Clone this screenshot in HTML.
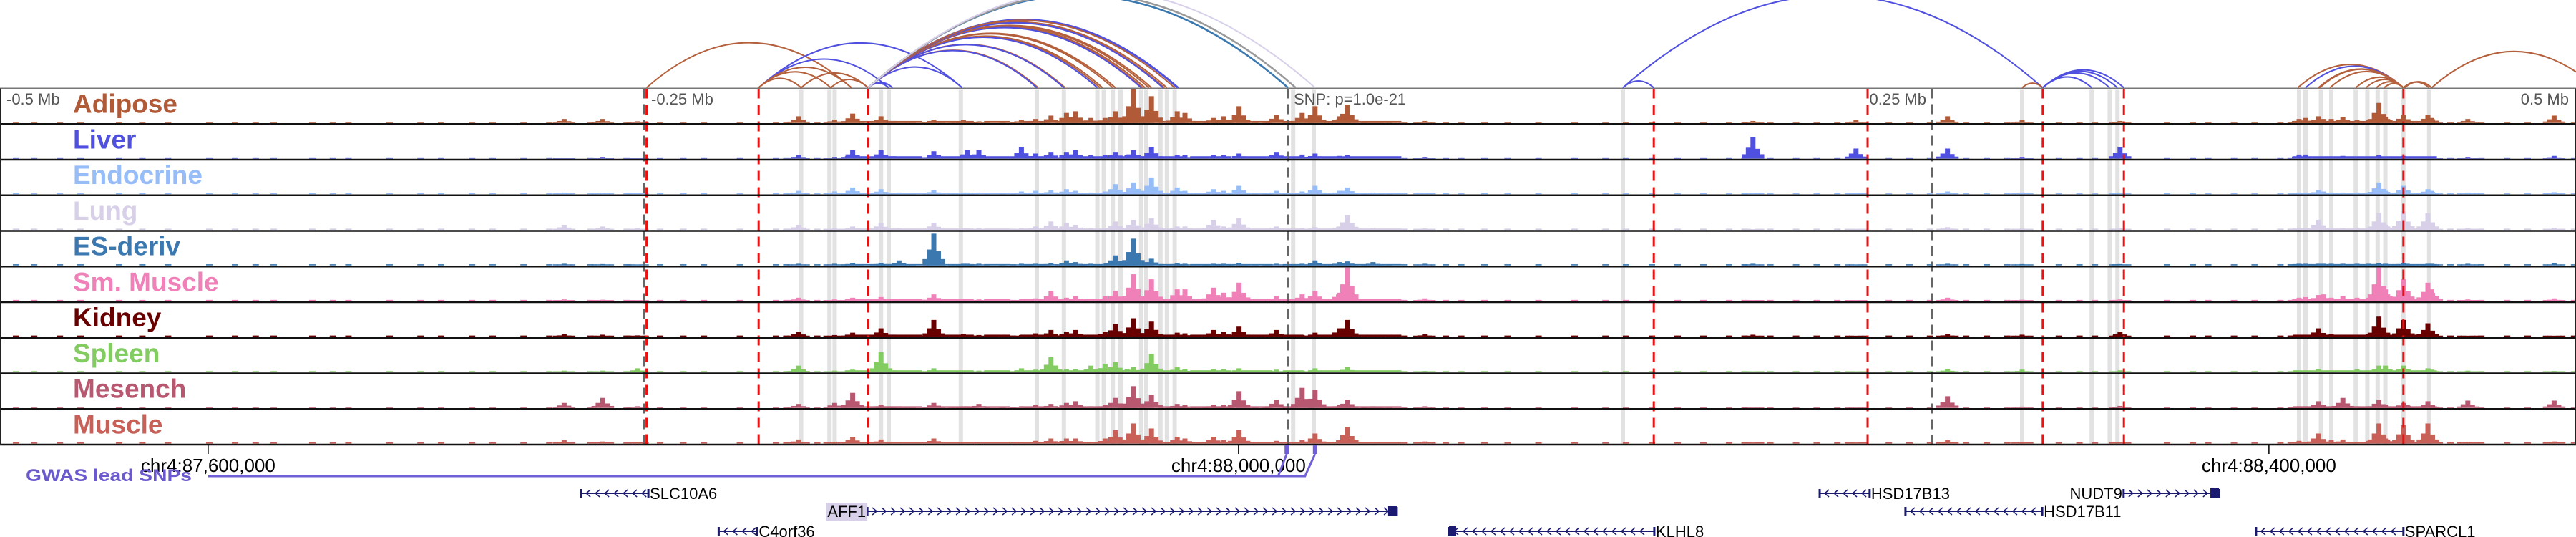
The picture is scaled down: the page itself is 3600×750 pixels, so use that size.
<!DOCTYPE html>
<html><head><meta charset="utf-8"><title>Regional chromatin tracks</title>
<style>
html,body{margin:0;padding:0;background:#fff;width:3600px;height:750px;overflow:hidden}
svg{display:block;font-family:"Liberation Sans",Arial,sans-serif}
</style></head>
<body>
<svg id="chart" width="3600" height="750" viewBox="0 0 3600 750" xmlns="http://www.w3.org/2000/svg">
<g id="shade"></g>
<g id="tracks"></g>
<g id="vlines"></g>
<g id="frame"></g>
<g id="arcs"></g>
<g id="labels"></g>
<g id="axis">
  <text x="9" y="146" font-size="22" fill="#555">-0.5 Mb</text>
  <text x="910" y="146" font-size="22" fill="#555">-0.25 Mb</text>
  <text x="2692" y="146" font-size="22" fill="#555" text-anchor="end">0.25 Mb</text>
  <text x="3590" y="146" font-size="22" fill="#555" text-anchor="end">0.5 Mb</text>
  <text x="1808" y="146" font-size="22" fill="#555">SNP: p=1.0e-21</text>
</g>
<g id="genes"></g>
<g id="gwas">
  <text x="36" y="672" font-size="24" font-weight="bold" fill="#6a5acd" textLength="232" lengthAdjust="spacingAndGlyphs">GWAS lead SNPs</text>
</g>
</svg>
<script>
// ---- data ----
const trackNames = ["Adipose","Liver","Endocrine","Lung","ES-deriv","Sm. Muscle","Kidney","Spleen","Mesench","Muscle"];
const trackColors = ["#b05a38","#5050e0","#96bdf8","#d8d0e8","#3c78b0","#f080b8","#680000","#82cc62","#b85870","#c86058"];
// peak positions: kb offset from lead SNP
const siteKb = [-281,-266,-252.5,-190,-176,-169,-158,-151,-137.5,-126,-124.5,-120,-103.5,-98,-92,-86,-82.5,-76.5,-71,-67,-62.5,-60,-53,-43,-40,-29,-25,-19,-4.5,5.5,10.5,20,23,33,53,180.5,220.5,256,285,323,392.5,395,400,402,405,409.5,415,419.5,423.5,426,433,434.5,442.5,444,458,491.5];
const adipose  = [.12,.12,.05,.2,.1,.28,.2,.05,.1,.08,.05,.05,.1,.12,.22,.3,.35,.15,.15,.35,.1,1.0,.8,.35,.3,.15,.2,.5,.25,.3,.5,.2,.55,.05,.06,.06,.08,.2,.08,.06,.12,.15,.2,.12,.12,.18,.08,.1,.6,.18,.25,.1,.25,.15,.12,.22];
const liver    = [.03,.05,.03,.1,.05,.25,.25,.05,.22,.05,.25,.25,.35,.15,.2,.2,.25,.1,.1,.2,.1,.25,.35,.1,.1,.1,.1,.15,.2,.12,.15,.08,.1,.05,.05,.65,.3,.3,.05,.35,.12,.12,.05,.05,.05,.08,.05,.05,.1,.05,.08,.05,.05,.05,.05,.08];
const endocrine= [.05,.04,.03,.1,.08,.2,.15,.05,.12,.05,.05,.05,.08,.1,.12,.15,.1,.05,.08,.3,.05,.35,.5,.2,.1,.15,.1,.25,.1,.08,.25,.1,.2,.05,.03,.03,.03,.08,.05,.05,.05,.05,.12,.08,.05,.05,.05,.05,.35,.1,.25,.1,.15,.1,.05,.06];
const lung     = [.15,.1,.06,.15,.05,.1,.2,.05,.2,.05,.05,.05,.05,.1,.25,.2,.15,.05,.05,.25,.05,.3,.35,.1,.1,.3,.1,.35,.1,.05,.08,.1,.45,.05,.04,.02,.03,.08,.04,.05,.05,.05,.3,.05,.05,.05,.05,.05,.5,.15,.55,.2,.5,.15,.05,.06];
const esDeriv  = [.05,.04,.03,.05,.05,.08,.08,.15,.95,.05,.05,.05,.05,.05,.08,.15,.1,.05,.05,.3,.05,.8,.2,.08,.05,.05,.05,.08,.05,.05,.15,.1,.12,.1,.05,.05,.03,.05,.04,.04,.05,.05,.05,.05,.05,.05,.05,.05,.08,.05,.08,.05,.05,.05,.05,.06];
const smMuscle = [.05,.04,.03,.1,.05,.1,.12,.05,.2,.05,.05,.05,.05,.08,.3,.1,.15,.05,.15,.3,.15,.8,.65,.35,.35,.4,.25,.55,.15,.2,.3,.25,1.0,.05,.08,.03,.03,.1,.04,.05,.1,.12,.18,.2,.1,.15,.1,.1,1.0,.35,.65,.3,.55,.35,.05,.08];
const kidney   = [.08,.06,.04,.15,.05,.12,.25,.05,.5,.08,.05,.05,.05,.1,.2,.15,.2,.05,.15,.38,.08,.55,.45,.12,.1,.2,.15,.3,.2,.05,.12,.25,.5,.05,.08,.06,.03,.08,.06,.15,.05,.05,.25,.1,.08,.05,.05,.08,.6,.1,.5,.15,.4,.1,.03,.03];
const spleen   = [.05,.05,.12,.2,.05,.08,.6,.05,.12,.05,.05,.05,.12,.08,.45,.1,.1,.2,.25,.3,.1,.15,.55,.15,.1,.1,.1,.12,.08,.05,.12,.05,.15,.05,.04,.03,.03,.1,.08,.06,.05,.05,.1,.05,.05,.05,.1,.05,.2,.2,.2,.1,.12,.08,.05,.04];
const mesench  = [.15,.3,.05,.12,.15,.45,.1,.05,.15,.05,.05,.12,.05,.08,.12,.15,.2,.05,.1,.3,.05,.65,.4,.12,.1,.1,.1,.5,.25,.6,.55,.1,.25,.05,.05,.03,.03,.35,.04,.06,.05,.05,.2,.1,.05,.3,.05,.05,.25,.1,.15,.08,.2,.08,.22,.22];
const muscle   = [.1,.06,.05,.12,.05,.2,.12,.05,.15,.05,.05,.05,.05,.08,.15,.15,.15,.05,.15,.4,.1,.6,.45,.2,.15,.2,.1,.4,.08,.1,.3,.1,.5,.05,.06,.03,.03,.1,.04,.05,.08,.05,.3,.1,.1,.12,.05,.08,.6,.15,.55,.2,.6,.25,.05,.06];
const trackValues = [adipose,liver,endocrine,lung,esDeriv,smMuscle,kidney,spleen,mesench,muscle];
// broad low-level signal regions (kb) with per-track level
const regionStart = [-172,-160,-140,-118,-104,-88,-66,-50,-38,-20,-2,8,390];
const regionEnd   = [-152,-142,-122,-108,-92,-70,-52,-40,-22,-6,6,44,446];
const regionLevel = [0.06,0.07,0.04,0.04,0.04,0.06,0.06,0.06,0.05,0.05];
// low background signal positions (kb) and level
const lowKb = [-495,-488,-478,-470,-455,-446,-436,-420,-410,-402,-395,-380,-372,-366,-350,-338,-330,-318,-310,-298,-288,-272,-258,-245,-236,-228,-214,-200,-196,-184,-147,-142,-132,-112,-108,-64,-36,-33,-14,-10,0,14,28,38,44,60,66,75,84,96,110,122,130,140,150,160,170,176,186,196,204,212,232,240,248,262,270,278,298,306,312,320,340,350,356,366,374,384,388,450,462,472,480,498];
const lowLevel = 0.035;
// highlight columns (kb)
const shadeKb = [-189,-178,-176,-158,-155,-127,-97.5,-87,-74,-71.5,-68,-65,-57,-55,-49.5,-47,-44,2,10,130,285,312,319,322,392.5,395,401,405,414.5,419,423,426,433,443];
// vertical marker lines (kb)
const redKb = [-249,-205.5,-163,142,225,293,324.5,433];
const greyKb = [-250,0,250];
// arcs (kb) and colour keys
const arcFrom = [-249,-205.5,-205.5,-205.5,-205.5,-205.5,-189,-177.5,-163,-163,-163,-163,-163,-163,-163,-163,-163,-163,-163,-163,-163,-163,-163,-163,-163,-163,-163,-163,-163,-163,-163,-163,-163,-163,130,130,285,293,293,293,293,392,395,400,400.5,404.5,414.5,418.5,422.5,425.5,433,433.5,444];
const arcTo   = [-169.5,-126.5,-155,-189,-177.5,-169.5,-163,-163,-155,-153.5,-126.5,-97,-97.5,-86.5,-87,-73,-72,-74,-68,-67,-56.5,-55.5,-57,-54,-53,-48,-47,-48.5,-43,-42.5,-44,0,3,10.5,142,293,293,312,319,322,324.5,433,433,433,433,433,433,433,433,433,443,444,508];
const arcColorKey = ["br","bl","bl","br","br","br","br","br","bl","bl","bl","br","bl","br","bl","br","br","bl","br","br","br","br","bl","br","br","br","br","bl","bl","bl","br","st","gr","lv","bl","bl","br","bl","bl","bl","bl","br","bl","br","br","br","br","br","br","br","br","br","br"];
const arcPalette = {br:"#b5603c",bl:"#5050e0",gr:"#999999",st:"#3a78b0",lv:"#d8d0ea"};
// chromosome ticks (Mb)
const chrTicks = [87.6, 88.0, 88.4];
const snpPosMb = 88.0192;
// genes
const geneNames  = ["SLC10A6","AFF1","C4orf36","KLHL8","HSD17B13","NUDT9","HSD17B11","SPARCL1"];
const geneStart  = [-274.4,-163.3,-221,62.5,206.4,324.4,239.7,375.8];
const geneEnd    = [-248.3,42.2,-206,142.2,225.8,361.4,292.8,433];
const geneStrand = [-1,1,-1,-1,-1,1,-1,-1];
const geneRow    = [0,1,2,2,0,0,1,2];
const gwasSnpKb = [-0.5,10.5];

// ---- scales ----
const NS="http://www.w3.org/2000/svg";
const pxPerKb=3.6;
const xKb = kb => 1800 + kb*pxPerKb;
const xMb = mb => xKb((mb - snpPosMb)*1000);
const TOP=123.5, TH=49.75;
const trackTop = i => TOP + i*TH;
const barMax = TH - 3;
function mk(tag, attrs, parent){ const e=document.createElementNS(NS,tag); for(const k in attrs) e.setAttribute(k,attrs[k]); parent.appendChild(e); return e; }
const gShade=document.getElementById('shade'), gTracks=document.getElementById('tracks'), gV=document.getElementById('vlines'),
      gFrame=document.getElementById('frame'), gArcs=document.getElementById('arcs'), gLab=document.getElementById('labels'),
      gAxis=document.getElementById('axis'), gGenes=document.getElementById('genes'), gGwas=document.getElementById('gwas');

// shading
shadeKb.forEach((kb,i)=>{
  const r=mk('rect',{x:xKb(kb)-3,y:TOP+2,width:6,height:621-TOP-2,fill:'#e2e2e2'},gShade);
  
  
});

// tracks
trackValues.forEach((vals,t)=>{
  const g=mk('g',{},gTracks);
  
  
  const base=trackTop(t+1)-1.5, col=trackColors[t];
  lowKb.forEach(kb=>{
    const h=lowLevel*barMax;
    const r=mk('rect',{x:xKb(kb),y:base-h,width:9,height:h,fill:col},g);
    
    
  });
  regionStart.forEach((s,k)=>{
    const h=regionLevel[t]*barMax, x1=xKb(s), x2=xKb(regionEnd[k]);
    const r=mk('rect',{x:x1,y:base-h,width:x2-x1,height:h,fill:col},g);
    
    
  });
  siteKb.forEach((kb,i)=>{
    const v=vals[i], h=v*barMax, cx=xKb(kb);
    const sh=[[-3.4,0.2],[-1.8,0.5],[1.8,0.45],[3.4,0.2]];
    sh.forEach(([dk,f])=>{
      const hh=Math.max(1.5,h*f);
      const s=mk('rect',{x:cx+dk*pxPerKb-3.5,y:base-hh,width:7,height:hh,fill:col},g);
      
      
    });
    const r=mk('rect',{x:cx-3.5,y:base-h,width:7,height:h,fill:col},g);
    
    
  });
});

// vertical lines
greyKb.forEach(kb=>{
  const l=mk('line',{x1:xKb(kb),x2:xKb(kb),y1:TOP,y2:621,stroke:'#666','stroke-width':2,'stroke-dasharray':'14 8'},gV);
  
  
});
redKb.forEach(kb=>{
  const l=mk('line',{x1:xKb(kb),x2:xKb(kb),y1:TOP,y2:621,stroke:'#ee1010','stroke-width':3,'stroke-dasharray':'14 9'},gV);
  
  
});

// frame
mk('line',{x1:0,x2:3600,y1:TOP,y2:TOP,stroke:'#777','stroke-width':2},gFrame);
for(let i=1;i<=10;i++){
  const l=mk('line',{x1:0,x2:3600,y1:trackTop(i),y2:trackTop(i),stroke:'#111','stroke-width':2.4},gFrame);
  
  
}
mk('line',{x1:1,x2:1,y1:TOP,y2:621,stroke:'#222','stroke-width':2},gFrame);
mk('line',{x1:3599,x2:3599,y1:TOP,y2:621,stroke:'#222','stroke-width':2},gFrame);

// arcs
arcFrom.forEach((a,i)=>{
  const x1=xKb(a), x2=xKb(arcTo[i]), span=Math.abs(x2-x1), h=0.22*span, mid=(x1+x2)/2;
  const p=mk('path',{d:`M${x1},${TOP-1} Q${mid},${TOP-1-2*h} ${x2},${TOP-1}`,fill:'none',stroke:arcPalette[arcColorKey[i]],'stroke-width':(arcColorKey[i]==='gr'||arcColorKey[i]==='st')?2.5:2},gArcs);
  
  
});

// labels
trackNames.forEach((n,i)=>{
  const t=mk('text',{x:102,y:trackTop(i)+34,'font-size':37,'font-weight':'bold',fill:trackColors[i]},gLab);
  t.textContent=n;
  
  
});

// chromosome ticks
chrTicks.forEach(mb=>{
  const x=xMb(mb);
  mk('line',{x1:x,x2:x,y1:621,y2:634,stroke:'#000','stroke-width':1.5},gAxis);
  const t=mk('text',{x:x,y:659,'font-size':26,'text-anchor':'middle',fill:'#000'},gAxis);
  t.textContent='chr4:'+Math.round(mb*1e6).toLocaleString('en-US');
  
  
});

// GWAS track
(function(){
  const y=665, xs=gwasSnpKb.map(xKb);
  const p=mk('path',{d:`M${xMb(87.6)},${y} L${xs[0]-12},${y} L${xs[0]},634 M${xs[0]-12},${y} L${xs[1]-14},${y} L${xs[1]},634`,fill:'none',stroke:'#7060d8','stroke-width':3},gGwas);
  
  
  xs.forEach(x=>{
    const r=mk('rect',{x:x-3,y:622,width:6,height:12,fill:'#7060d8'},gGwas);
    
    
  });
})();

// genes
const rowY=[689,714,742];
geneNames.forEach((n,i)=>{
  const g=mk('g',{},gGenes);
  
  
  const x1=xKb(geneStart[i]), x2=xKb(geneEnd[i]), y=rowY[geneRow[i]], col='#1a1a70';
  mk('line',{x1:x1,x2:x2,y1:y,y2:y,stroke:col,'stroke-width':2},g);
  mk('line',{x1:x1,x2:x1,y1:y-6,y2:y+6,stroke:col,'stroke-width':3},g);
  mk('line',{x1:x2,x2:x2,y1:y-6,y2:y+6,stroke:col,'stroke-width':3},g);
  for(let x=x1+10;x<x2-4;x+=13){
    const d=geneStrand[i]>0?`M${x-3},${y-5} L${x+3},${y} L${x-3},${y+5}`:`M${x+3},${y-5} L${x-3},${y} L${x+3},${y+5}`;
    mk('path',{d:d,fill:'none',stroke:col,'stroke-width':1.5},g);
  }
  if(geneStrand[i]>0){ mk('rect',{x:x2-12,y:y-7,width:12,height:14,fill:col},g); }
  else if(n==='KLHL8'){ mk('rect',{x:x1,y:y-7,width:10,height:14,fill:col},g); }
  if(geneStrand[i]>0){
    if(n==='AFF1'){ mk('rect',{x:x1-58,y:y-12,width:58,height:26,fill:'#d8d0e8'},g); }
    const t=mk('text',{x:x1-2,y:y+8,'font-size':22,'text-anchor':'end',fill:'#000'},g); t.textContent=n;
  } else {
    const t=mk('text',{x:x2+2,y:y+8,'font-size':22,fill:'#000'},g); t.textContent=n;
  }
});
</script>
</body></html>
